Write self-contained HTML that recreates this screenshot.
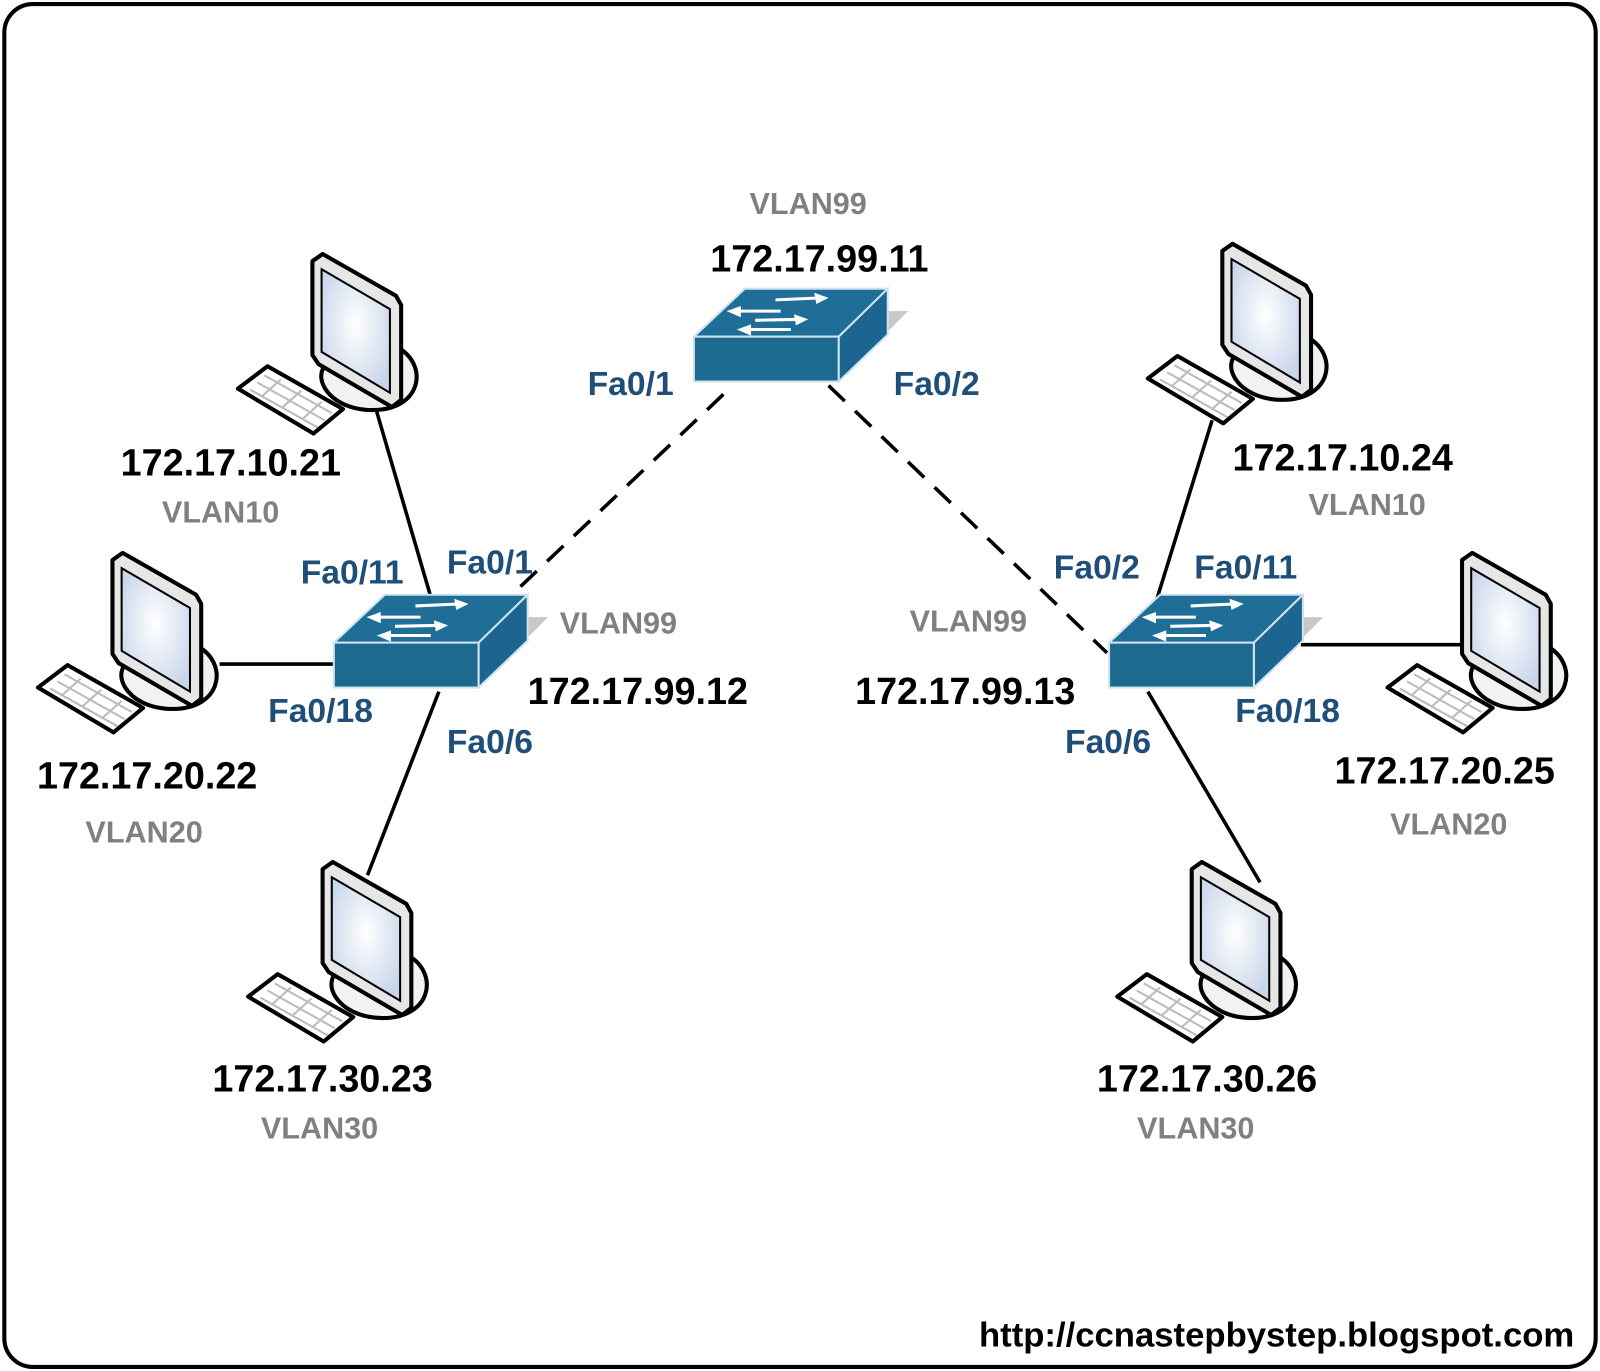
<!DOCTYPE html>
<html><head><meta charset="utf-8"><style>
html,body{margin:0;padding:0;background:#fff;}
svg{display:block;}
text{font-family:"Liberation Sans",Arial,sans-serif;font-weight:bold;text-anchor:middle;}
.ip{font-size:37px;fill:#000;}
.fa{font-size:33px;fill:#1f4e79;}
.vl{font-size:30px;fill:#808080;}
</style></head><body>
<svg width="1600" height="1371" viewBox="0 0 1568 1344" xmlns="http://www.w3.org/2000/svg">
<defs>
<radialGradient id="scr" cx="0.5" cy="0.45" r="0.6"><stop offset="0" stop-color="#ffffff"/><stop offset="1" stop-color="#c9d6ea"/></radialGradient>
<g id="pc">
  <path d="M328,352 C300,362 318,402 365,402 C412,402 420,360 392,342 Z" fill="#f2f2f2" stroke="#000" stroke-width="4"/>
  <polygon points="306,256 316,249 388,290 393,299 393,392 384,399 312,357 306,348" fill="#e6e6e6" stroke="#000" stroke-width="4" stroke-linejoin="round"/>
  <polygon points="315,264 382,303 382,385 315,345" fill="url(#scr)" stroke="#000" stroke-width="2"/>
  <polygon points="233,381 262,359 336,401 307,425" fill="#fff" stroke="#000" stroke-width="4" stroke-linejoin="round"/>
  <g stroke="#bbb" stroke-width="2" fill="none">
    <line x1="252" y1="375" x2="318" y2="412"/>
    <line x1="245" y1="382" x2="311" y2="419"/>
    <line x1="259" y1="368" x2="325" y2="405"/>
    <line x1="275" y1="372" x2="256" y2="389"/>
    <line x1="295" y1="383" x2="276" y2="400"/>
    <line x1="315" y1="394" x2="296" y2="411"/>
  </g>
</g>
<g id="sw">
  <polygon points="870,305 890,305 870,325" fill="#c8c8c8"/>
  <polygon points="680,330 730,283 870,283 822,330" fill="#1f6e97" stroke="#cfe3ee" stroke-width="2"/>
  <rect x="680" y="330" width="142" height="44" fill="#1d6a91" stroke="#cfe3ee" stroke-width="2"/>
  <polygon points="822,330 870,283 870,328 822,374" fill="#1b6590" stroke="#cfe3ee" stroke-width="2"/>
  <g fill="#fff" stroke="#fff" stroke-width="3">
    <line x1="805" y1="292" x2="760" y2="294"/><polygon points="812,292 798,287 800,298" stroke="none"/>
    <line x1="765" y1="305" x2="720" y2="305"/><polygon points="712,305 726,300 726,311" stroke="none"/>
    <line x1="785" y1="313" x2="740" y2="314"/><polygon points="792,313 778,308 780,319" stroke="none"/>
    <line x1="775" y1="323" x2="730" y2="323"/><polygon points="722,323 736,318 736,329" stroke="none"/>
  </g>
</g>
</defs>
<rect x="4" y="4" width="1560" height="1336" rx="28" fill="#fff" stroke="#000" stroke-width="4"/>
<g stroke="#000" stroke-width="3.5" fill="none">
  <line x1="368" y1="400" x2="422" y2="585"/>
  <line x1="215" y1="651" x2="327" y2="651"/>
  <line x1="430" y1="678" x2="360" y2="858"/>
  <line x1="1188" y1="412" x2="1133" y2="590"/>
  <line x1="1275" y1="632" x2="1440" y2="632"/>
  <line x1="1125" y1="678" x2="1235" y2="865"/>
  <line x1="510" y1="575" x2="718" y2="378" stroke-dasharray="22,14"/>
  <line x1="812" y1="378" x2="1085" y2="640" stroke-dasharray="22,14"/>
</g>
<use href="#pc"/>
<use href="#pc" transform="translate(-196,293)"/>
<use href="#pc" transform="translate(10,596)"/>
<use href="#pc" transform="translate(892,-10)"/>
<use href="#pc" transform="translate(1127,293)"/>
<use href="#pc" transform="translate(862,596)"/>
<use href="#sw"/>
<use href="#sw" transform="translate(-353,300)"/>
<use href="#sw" transform="translate(407,300)"/>

<text class="vl" x="792" y="210">VLAN99</text>
<text class="ip" x="803" y="266">172.17.99.11</text>
<text class="fa" x="618" y="387">Fa0/1</text>
<text class="fa" x="918" y="387">Fa0/2</text>
<text class="ip" x="226" y="466">172.17.10.21</text>
<text class="vl" x="216" y="512">VLAN10</text>
<text class="fa" x="345" y="572">Fa0/11</text>
<text class="fa" x="480" y="562">Fa0/1</text>
<text class="vl" x="606" y="621">VLAN99</text>
<text class="fa" x="314" y="708">Fa0/18</text>
<text class="ip" x="625" y="690">172.17.99.12</text>
<text class="fa" x="480" y="738">Fa0/6</text>
<text class="ip" x="144" y="773">172.17.20.22</text>
<text class="vl" x="141" y="826">VLAN20</text>
<text class="ip" x="316" y="1070">172.17.30.23</text>
<text class="vl" x="313" y="1116">VLAN30</text>
<text class="ip" x="1316" y="461">172.17.10.24</text>
<text class="vl" x="1340" y="505">VLAN10</text>
<text class="fa" x="1075" y="567">Fa0/2</text>
<text class="fa" x="1221" y="567">Fa0/11</text>
<text class="vl" x="949" y="619">VLAN99</text>
<text class="ip" x="946" y="690">172.17.99.13</text>
<text class="fa" x="1262" y="708">Fa0/18</text>
<text class="fa" x="1086" y="738">Fa0/6</text>
<text class="ip" x="1416" y="768">172.17.20.25</text>
<text class="vl" x="1420" y="818">VLAN20</text>
<text class="ip" x="1183" y="1070">172.17.30.26</text>
<text class="vl" x="1172" y="1116">VLAN30</text>
<text class="ip" x="1543" y="1320" style="text-anchor:end;font-size:34px">http://ccnastepbystep.blogspot.com</text>
</svg>
</body></html>
